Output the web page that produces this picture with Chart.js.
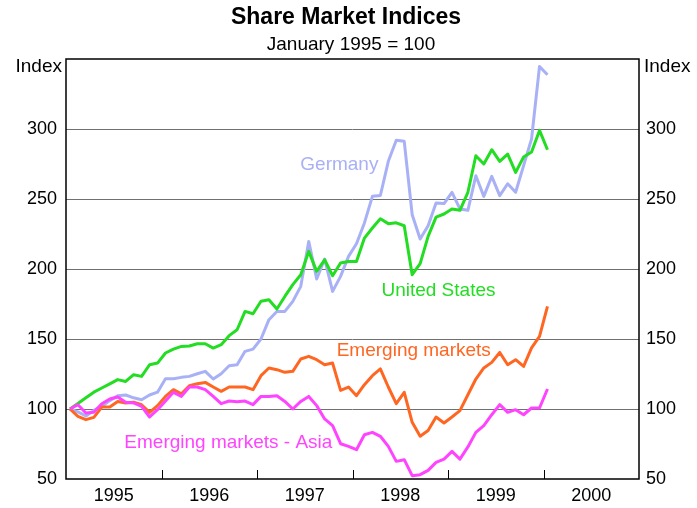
<!DOCTYPE html>
<html>
<head>
<meta charset="utf-8">
<script src="https://cdn.jsdelivr.net/npm/chart.js@4.4.1/dist/chart.umd.min.js"></script>
<style>
  html, body { margin: 0; padding: 0; background: #fff; }
</style>
</head>
<body>
<canvas id="chart" width="697" height="508"></canvas>
<script>
// monthly values, first point = January 1995 (month 0)
const years = ['1995', '1996', '1997', '1998', '1999', '2000'];
const yTicks = [50, 100, 150, 200, 250, 300, 350];

const germany = [100, 98, 95, 99, 102, 106, 109.5, 110, 108, 106.6, 110, 112,
  121.6, 121.6, 122.6, 123.3, 125.2, 126.9, 121.4, 125.2, 130.9, 131.6, 141.2, 142.8,
  150, 163.8, 169.7, 169.7, 176.9, 187.6, 219.7, 192.9, 207.1, 184, 194.7, 209,
  218, 232.9, 251.9, 252.5, 276.9, 291.9, 291.2, 238.8, 221.4, 230.9, 247.1, 246.7,
  254.7, 242.9, 241.9, 266.6, 251.9, 266.2, 252.4, 260.9, 254.8, 273.8, 292.9, 344.7,
  338.8];
const unitedStates = [100, 104, 108, 112, 115, 118, 121, 119.7, 124.5, 123.3, 131.6, 132.8,
  140, 142.8, 144.7, 145, 146.6, 146.6, 143.5, 145.9, 152.4, 156.6, 169.7, 168,
  177, 178, 171.4, 180.4, 188.8, 195.9, 212.6, 198.3, 206.6, 195.2, 204.3, 205.4,
  205.4, 222.1, 229.3, 235.9, 232.4, 233, 230.9, 195.9, 203.8, 223.3, 237.1, 239.3,
  242.9, 241.9, 254.8, 280.9, 275, 285.2, 276.9, 282.1, 269, 280, 283.6, 299,
  285.2];
const emerging = [100, 94.7, 92.4, 94, 101.4, 101.4, 105.4, 104.3, 104.8, 103, 97.6, 102.4,
  109, 113.8, 110.9, 116.6, 118.1, 119, 115.7, 112.6, 115.7, 115.7, 115.7, 113.8,
  123.8, 129.3, 128.1, 126.2, 126.9, 135.7, 137.6, 135.2, 131.6, 132.8, 113.3, 115.7,
  109.5, 117.4, 123.8, 128.6, 115.7, 103.8, 111.9, 90.5, 80.5, 84.7, 94.3, 90,
  94.3, 98.8, 110.2, 121.4, 129.3, 133.3, 140.4, 131.6, 135.2, 130.4, 143.6, 151.9,
  173.3];
const emergingAsia = [100, 103.1, 97.1, 97.6, 103.8, 107.1, 108.6, 104.8, 104.3, 101.9, 94.3, 99.5,
  105.7, 111.9, 109, 115.7, 115.7, 113.8, 109, 103.8, 105.7, 105.2, 105.7, 103.1,
  109, 109, 109.5, 105.4, 100, 105.4, 109, 102.4, 92.9, 88.1, 75.2, 73.3,
  70.9, 81.6, 83.3, 80.5, 73.3, 62.6, 63.8, 52.4, 53.1, 56.2, 61.9, 64.2,
  69.7, 64.2, 72.9, 83.3, 88.1, 95.9, 103.1, 97.6, 99.5, 95.9, 100.7, 100.7,
  114.3];

const FONT = 'Arial, "Liberation Sans", sans-serif';

// series name, colour and where its label sits (month, index value at baseline)
const series = [
  { name: 'Emerging markets - Asia', data: emergingAsia, color: '#ff44ff', lx: 19.9, ly: 72.1 },
  { name: 'Emerging markets', data: emerging, color: '#ff6622', lx: 43.2, ly: 137.6 },
  { name: 'United States', data: unitedStates, color: '#22dd22', lx: 46.3, ly: 180.4 },
  { name: 'Germany', data: germany, color: '#a8b0f6', lx: 33.85, ly: 270.9 }
];

const decor = {
  id: 'decor',
  afterDatasetsDraw(chart) {
    const { ctx, chartArea: a, scales } = chart;
    ctx.save();
    // series labels
    ctx.font = '19px ' + FONT;
    ctx.textAlign = 'center';
    ctx.textBaseline = 'alphabetic';
    series.forEach(s => {
      ctx.fillStyle = s.color;
      ctx.fillText(s.name, scales.x.getPixelForValue(s.lx), scales.y.getPixelForValue(s.ly));
    });
    // year boundary ticks
    ctx.strokeStyle = '#000';
    ctx.lineWidth = 1;
    for (let k = 1; k < years.length; k++) {
      const x = Math.round(scales.x.getPixelForValue(k * 12 - 0.5)) + 0.5;
      ctx.beginPath();
      ctx.moveTo(x, a.bottom);
      ctx.lineTo(x, a.bottom - 9);
      ctx.stroke();
    }
    // frame
    ctx.lineWidth = 1.5;
    ctx.strokeRect(a.left, a.top, a.right - a.left, a.bottom - a.top);
    // titles
    ctx.fillStyle = '#000';
    ctx.font = 'bold 23px ' + FONT;
    ctx.textBaseline = 'middle';
    ctx.fillText('Share Market Indices', 346, 18);
    ctx.font = '19px ' + FONT;
    ctx.fillText('January 1995 = 100', 351, 45);
    ctx.textAlign = 'right';
    ctx.fillText('Index', a.left - 4, 67);
    ctx.textAlign = 'left';
    ctx.fillText('Index', a.right + 5, 67);
    ctx.restore();
  }
};

const yAxis = (pos, width, pad) => ({
  type: 'linear',
  position: pos,
  min: 50,
  max: 350,
  afterBuildTicks: s => { s.ticks = yTicks.map(v => ({ value: v })); },
  afterFit: s => { s.width = width; },
  border: { display: false },
  grid: {
    display: pos === 'left',
    drawTicks: false,
    color: c => (c.tick && (c.tick.value === 50 || c.tick.value === 350)) ? 'rgba(0,0,0,0)' : '#707070',
    lineWidth: 1
  },
  ticks: {
    padding: pad,
    color: '#000',
    font: { family: FONT, size: 18 },
    callback: v => v === 350 ? '' : v
  }
});

new Chart(document.getElementById('chart'), {
  type: 'line',
  data: {
    datasets: series.map(s => ({
      label: s.name,
      data: s.data.map((v, i) => ({ x: i, y: v })),
      borderColor: s.color,
      borderWidth: 3,
      pointRadius: 0,
      tension: 0,
      borderJoinStyle: 'round',
      fill: false
    }))
  },
  options: {
    responsive: false,
    animation: false,
    devicePixelRatio: 1,
    layout: { padding: { top: 59, left: 0, right: 0, bottom: 0 } },
    plugins: { legend: { display: false }, tooltip: { enabled: false }, title: { display: false } },
    scales: {
      x: {
        type: 'linear',
        min: -0.5,
        max: 71.5,
        afterBuildTicks: s => { s.ticks = years.map((y, k) => ({ value: k * 12 + 5.5 })); },
        afterFit: s => { s.height = 29; },
        border: { display: false },
        grid: { display: false, drawTicks: false },
        ticks: {
          padding: 6,
          color: '#000',
          autoSkip: false,
          maxRotation: 0,
          font: { family: FONT, size: 18 },
          callback: (v, i) => years[i]
        }
      },
      y: yAxis('left', 66, 9),
      y2: yAxis('right', 58, 7)
    }
  },
  plugins: [decor]
});
</script>
</body>
</html>
